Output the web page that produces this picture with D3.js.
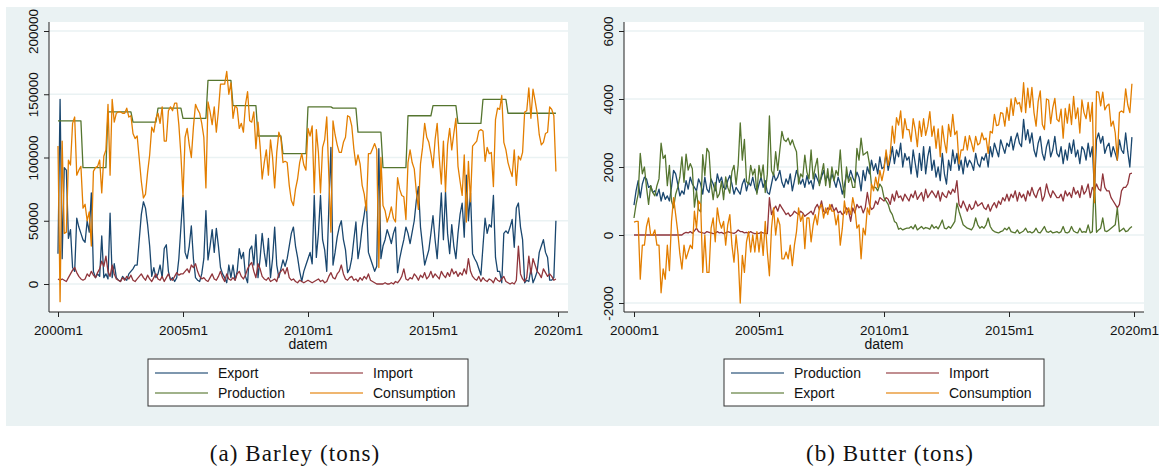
<!DOCTYPE html>
<html>
<head>
<meta charset="utf-8">
<script src="https://cdn.jsdelivr.net/npm/d3@7"></script>
<style>
  body { margin: 0; background: #fff; }
  text { font-family: "Liberation Sans", Arial, sans-serif; fill: #111; }
</style>
</head>
<body>
<svg id="chart" width="1170" height="469"></svg>
<script>
// ---- data (monthly, 2000m1 .. 2019m12) ----
const xTickMonths = [0, 60, 120, 180, 240];
const xTickLabels = ["2000m1", "2005m1", "2010m1", "2015m1", "2020m1"];

// Barley, thousand tons
const barleyProductionYear = [129, 92, 136, 128, 139, 131, 161, 141, 117, 103, 140, 139, 120, 92, 133, 141, 127, 146, 135, 135];
const barleyExport = [
  24, 146, 20, 92, 90, 36, 43, 13, 10, 52, 45, 40,
  35, 33, 50, 41, 72, 10, 5, 8, 6, 38, 5, 8,
  4, 56, 5, 16, 5, 3, 2, 6, 4, 3, 8, 10,
  12, 15, 15, 35, 55, 65, 60, 47, 30, 6, 13, 5,
  8, 15, 5, 28, 31, 10, 3, 5, 2, 5, 20, 45,
  70, 25, 20, 30, 46, 20, 5, 3, 2, 8, 20, 58,
  19, 30, 43, 25, 44, 30, 13, 8, 5, 1, 15, 5,
  15, 3, 10, 28, 20, 25, 6, 1, 27, 30, 15, 39,
  5, 20, 40, 25, 14, 36, 5, 20, 45, 15, 5, 12,
  19, 14, 20, 30, 40, 45, 30, 21, 10, 2, 10, 15,
  20, 25, 16, 70, 21, 40, 70, 35, 27, 10, 60, 108,
  15, 25, 37, 45, 50, 35, 27, 9, 12, 20, 35, 49,
  20, 30, 45, 55, 66, 25, 20, 15, 10, 14, 107, 20,
  30, 35, 43, 38, 32, 40, 45, 9, 20, 28, 35, 45,
  40, 32, 41, 50, 66, 77, 45, 30, 15, 21, 27, 40,
  54, 35, 20, 45, 72, 35, 73, 40, 24, 47, 30, 20,
  40, 55, 64, 37, 86, 50, 72, 24, 20, 17, 12, 7,
  30, 52, 40, 47, 45, 70, 21, 10, 10, 1, 40, 42,
  40, 45, 51, 29, 60, 64, 45, 35, 1, 3, 2, 12,
  1, 5, 10, 25, 30, 35, 25, 21, 3, 3, 5, 50
];
const barleyImport = [
  4, 3, 4, 3, 2, 5, 8, 11, 13, 9, 6, 4,
  3, 4, 8, 6, 10, 7, 5, 9, 12, 18, 14, 22,
  10, 6, 15, 8, 4, 3, 2, 5, 3, 6, 4, 7,
  3, 2, 4, 6, 8, 5, 3, 7, 4, 2, 5, 8,
  4, 3, 6, 2, 5, 8, 4, 3, 6, 9, 7, 8,
  8, 10, 12, 9, 15, 13, 16, 10, 6, 4, 5, 3,
  2, 5, 8, 4, 3, 6, 10, 5, 2, 8, 4, 3,
  5, 3, 8, 10, 6, 4, 7, 12, 15, 17, 10, 5,
  16, 12, 6, 4, 3, 5, 2, 3, 4, 2, 8, 10,
  12, 8, 13, 5, 3, 4, 2, 1, 3, 2, 1, 2,
  3, 2, 1, 2, 3, 4, 2, 3, 1, 2, 6, 9,
  5, 4, 8, 10, 15, 8, 4, 3, 5, 6, 3, 4,
  2, 5, 3, 6, 4, 8, 3, 2, 1, 0, 0, 0,
  0, 1, 0, 0, 1, 0, 2, 1, 3, 6, 12, 4,
  3, 5, 4, 8, 6, 3, 7, 5, 9, 4, 6, 10,
  5, 8, 6, 4, 10, 7, 5, 9, 6, 12, 8, 10,
  6, 9, 7, 12, 8, 20, 10, 6, 4, 3, 6, 2,
  5, 3, 2, 4, 3, 1, 5, 3, 2, 4, 6, 2,
  1, 0, 1, 0, 3, 30, 8, 4, 2, 5, 22, 8,
  20, 15, 10, 8, 5, 12, 9, 6, 8, 6, 3, 4
];
const barleyConsumption = [
  109, -14, 113, 40, 41, 98, 94, 127, 132, 86, 90, 93,
  60, 63, 50, 57, 30, 89, 92, 93, 98, 72, 101, 106,
  142, 86, 146, 128, 135, 136, 136, 135, 135, 139, 132, 133,
  119, 115, 117, 99, 81, 68, 71, 88, 102, 124, 120, 131,
  135, 127, 140, 113, 113, 137, 140, 137, 143, 143, 126, 102,
  69, 116, 123, 110, 100, 124, 142, 138, 135, 127, 116, 76,
  144, 136, 126, 140, 120, 137, 158, 158, 158, 168, 150, 159,
  131, 141, 139, 123, 127, 120, 142, 152, 129, 128, 136, 107,
  128, 109, 83, 96, 106, 86, 114, 100, 76, 104, 120, 115,
  96, 97, 96, 78, 66, 62, 75, 83, 96, 103, 94, 90,
  123, 117, 125, 72, 122, 104, 72, 108, 114, 132, 86, 41,
  129, 118, 110, 104, 104, 112, 116, 133, 132, 125, 107, 94,
  102, 95, 78, 71, 58, 103, 103, 107, 111, 106, 13, 100,
  62, 58, 49, 54, 61, 52, 49, 84, 75, 70, 69, 51,
  96, 106, 96, 91, 73, 59, 95, 108, 127, 116, 112, 103,
  92, 114, 127, 100, 79, 113, 73, 110, 123, 106, 119, 131,
  93, 81, 70, 102, 49, 97, 65, 109, 111, 113, 121, 122,
  121, 97, 108, 103, 104, 77, 130, 139, 138, 149, 112, 106,
  96, 90, 85, 106, 78, 101, 98, 104, 136, 137, 155, 131,
  154, 145, 135, 118, 110, 112, 119, 120, 140, 138, 133, 89
];

// Butter, tons
const butterProduction = [
  880, 1300, 1600, 1100, 1500, 1700, 1650, 1400, 1450, 1250, 1300, 1150,
  1350, 1000, 1250, 1050, 1150, 1000, 1400, 1900, 1800, 1500, 1150, 1300,
  1200, 1600, 1350, 1700, 1500, 1400, 1300, 1650, 1500, 1200, 1700, 1350,
  1250, 1650, 1500, 1300, 1800, 1550, 1700, 1400, 1350, 1600, 1750, 1500,
  1200, 1400, 1300, 1200, 1500, 1650, 1300, 1550, 1450, 1700, 1400, 1250,
  1500, 1700, 1400, 1600, 1250, 1200, 1500, 1800, 1600, 1700, 1900, 1550,
  1400, 1650, 1500, 1800, 1300, 1600, 1900, 1700, 1500, 1650, 1400, 1750,
  1500, 1600, 1350, 1800, 1650, 1500, 1700, 1900, 1600, 1750, 1550, 1800,
  1600, 1400, 1700, 1500, 1200, 1450, 1800, 1650, 1900, 1700, 1550, 1850,
  1700, 1300, 1900, 1600, 2000, 1800, 2200, 1900, 2100, 1800, 2300, 1950,
  2000, 2400, 1900, 2200, 2600, 2100, 2500, 2300, 2700, 2000, 2400, 2200,
  2300, 1800, 2500, 2100, 1700, 2400, 1900, 2600, 1800, 2300, 2600, 1900,
  2200, 1700, 2000, 1600, 2400, 1800, 1500, 2200, 1900, 2500, 2100, 2400,
  1900, 2200, 1800, 2300, 2000, 2200, 2100, 1900, 2400, 2100, 2000, 2300,
  2200, 2400, 2000, 2600, 2300, 2700, 2500, 2300, 2800, 2600, 2400, 2700,
  2600, 2900, 2500, 2800, 3000, 2700, 2600, 3400, 2800, 3100, 2700, 3000,
  2500, 2300, 2700, 2900, 2400, 2200, 2600, 2800, 2300, 2500, 2900, 2400,
  2300, 2600, 2100, 2500, 2200, 2700, 2400, 2800, 2300, 2500, 2100, 2600,
  2500, 2200, 2700, 2300, 2600, 1300, 2800, 3000, 2700, 2900, 2400, 2600,
  2700, 2300, 2600, 2400, 2200, 2800, 2500, 2400, 3000, 2450, 2000, 2880
];
const butterImport = [
  0, 0, 0, 0, 0, 0, 0, 0, 0, 0, 0, 0,
  0, 0, 0, 0, 0, 0, 0, 0, 0, 0, 0, 0,
  50, 80, 60, 100, 50, 120, 200, 100, 80, 60, 50, 100,
  80, 60, 40, 50, 100, 60, 80, 40, 60, 100, 80, 60,
  50, 80, 150, 100, 100, 60, 80, 50, 100, 60, 40, 50,
  50, 80, 60, 50, 40, 1100, 600, 750, 850, 700, 900, 800,
  700, 600, 650, 550, 600, 700, 650, 600, 700, 650, 550, 600,
  650, 700, 600, 800, 900, 750, 1000, 700, 650, 800, 750, 900,
  700, 800, 650, 700, 600, 650, 800, 700, 400, 800, 650, 900,
  800, 850, 650, 800, 1250, 900, 750, 800, 1000, 900, 1100, 1050,
  1000, 1100, 1050, 900, 1200, 1000, 1300, 1100, 1150, 1000, 1200, 1100,
  1000, 1200, 1100, 1300, 1050, 1150, 1250, 1000, 1350, 1100, 1200, 1300,
  1200, 1100, 1300, 1000, 1250, 1150, 1100, 1300, 1200, 1350, 1250, 1600,
  900, 800, 1000, 850, 700, 900, 750, 800, 1000, 850, 900, 950,
  800, 750, 900, 700, 850, 950, 800, 1000, 900, 1100, 1000, 1200,
  1000, 1200, 1100, 1300, 1000, 1250, 1100, 1200, 1000, 1300, 1150, 1400,
  1200, 1100, 1300, 1400, 1000, 1150, 1500, 1250, 1100, 1300, 1200, 1100,
  1100, 1200, 1000, 1300, 1150, 1250, 1100, 1400, 1200, 1300, 1100, 1450,
  1200, 1300, 1500, 1100, 1400, 1300, 1500, 1350, 1300, 1800, 1400, 1300,
  1300, 1100, 1000, 900, 800, 900, 1300, 1400, 1400, 1500, 1800, 1820
];
const butterExport = [
  500, 900, 1200, 2400, 1800, 2000, 1400, 900, 1450, 1250, 1150, 1450,
  1650, 2700, 2250, 2350, 1450, 2050, 1000, 800, 1200, 1400, 1700, 2300,
  1550, 2380, 1910, 2100, 1950, 820, 1300, 750, 680, 2360, 1750, 2550,
  2430, 1510, 1040, 1550, 1100, 1210, 1580, 1040, 1710, 1400, 1230, 1860,
  2050, 1480, 2050, 3300, 2200, 2810, 1580, 1500, 2050, 1760, 1940, 1200,
  2050, 1680, 2060, 1250, 1790, 3500, 1900, 1750, 2450, 1900, 2500, 3050,
  2800, 2750, 2850, 2650, 2800, 2600, 2450, 1500, 1800, 1700, 2350, 1850,
  1650, 2500, 1650, 2000, 2250, 1450, 1800, 2100, 1450, 1950, 1400, 2000,
  1600, 1900, 1750, 2500, 1600, 1100, 2000, 1550, 1700, 1400, 1400, 2550,
  2200, 2850, 2350, 2400, 2450, 2100, 1450, 1400, 1400, 1300, 1500, 1400,
  1100, 1000, 900, 700, 600, 400, 350, 170, 200, 150, 180, 200,
  200, 250, 180, 300, 150, 200, 250, 180, 220, 200, 170, 300,
  200, 250, 180, 300, 440, 200, 180, 250, 200, 300, 400, 940,
  700, 500, 300, 250, 200, 180, 150, 250, 500, 300, 200, 250,
  200, 300, 500, 250, 150, 100, 80, 60, 100, 120, 200, 150,
  230, 100, 80, 60, 150, 50, 80, 120, 200, 80, 100, 60,
  100, 200, 80, 60, 150, 250, 100, 80, 120, 60, 80, 100,
  60, 100, 250, 80, 60, 100, 250, 120, 80, 60, 200, 80,
  100, 80, 300, 60, 100, 1650, 80, 150, 200, 500, 120, 100,
  150, 200, 250, 300, 800, 100, 150, 200, 100, 120, 200, 250
];
const butterConsumption = [
  380, 400, 400, -1300, -300, -300, 250, 500, 0, 0, 150, -300,
  -300, -1700, -1000, -1300, -300, -1050, 400, 1100, 600, 100, -550, -1000,
  -300, -700, -500, -300, -400, 700, 200, 1000, 900, -1100, 0, -1100,
  -1100, 200, 500, -200, 800, 400, 200, 400, -300, 300, 600, -300,
  -800, 0, -600, -2000, -600, -1100, -200, 100, -500, 0, -500, 100,
  -500, 100, -600, 400, -500, -1200, 200, 800, 0, 500, 300, -700,
  -700, -500, -700, -300, -900, -300, 100, 800, 400, 600, -400, 500,
  500, -200, 300, 600, 300, 800, 900, 500, 800, 600, 900, 700,
  700, 300, 600, -300, 200, 1000, 600, 800, 600, 1100, 800, 200,
  300, -700, 200, 0, 800, 600, 1500, 1300, 1700, 1400, 1900, 1600,
  1900, 2500, 2050, 2400, 3200, 2700, 3450, 3230, 3650, 2850, 3420, 3100,
  3100, 2750, 3420, 3100, 2600, 3350, 2900, 3420, 2930, 3200, 3630, 2900,
  3200, 2550, 3120, 2300, 3210, 2750, 2420, 3250, 2900, 3550, 2950, 3060,
  2100, 2500, 2500, 2900, 2500, 2920, 2700, 2450, 2900, 2650, 2700, 3000,
  2800, 2850, 2400, 3050, 3000, 3550, 3220, 3240, 3600, 3580, 3200, 3750,
  3370, 4000, 3520, 4040, 3850, 3900, 3620, 4480, 3600, 4320, 3750, 4340,
  3600, 3200, 3920, 4240, 3250, 3100, 4000, 3970, 3280, 3740, 4020, 3400,
  3340, 3700, 2850, 3720, 3290, 3850, 3250, 4080, 3420, 3740, 3000, 3970,
  3600, 3420, 3900, 3340, 3900, 950, 4220, 4200, 3800, 4200, 3680, 3800,
  3850, 3200, 3350, 3000, 2200, 3600, 3650, 3600, 4300, 3830, 3600, 4450
];

const barleyYTicks = [0, 50000, 100000, 150000, 200000];
const butterYTicks = [-2000, 0, 2000, 4000, 6000];

// Stata s2color
const navy = "#1a476f", maroon = "#90353b", green = "#55752f", orange = "#e37e00";

const svg = d3.select("#chart");

function drawPanel(p) {
  const g = svg.append("g");
  const top = 22, bottom = 312;

  g.append("rect")
    .attr("x", p.bg[0]).attr("y", 7)
    .attr("width", p.bg[1] - p.bg[0]).attr("height", 419)
    .attr("fill", "#eaf2f3");

  const x = d3.scaleLinear().domain([0, 240]).range(p.xRange);
  const y = d3.scaleLinear().domain(p.yDomain).range(p.yRange);

  g.append("rect")
    .attr("x", p.plotX[0]).attr("y", top)
    .attr("width", p.plotX[1] - p.plotX[0]).attr("height", bottom - top)
    .attr("fill", "#fff");

  // grid
  g.selectAll("line.grid").data(p.yTicks).join("line")
    .attr("class", "grid")
    .attr("x1", p.plotX[0]).attr("x2", p.plotX[1])
    .attr("y1", d => y(d)).attr("y2", d => y(d))
    .attr("stroke", "#eaf2f3").attr("stroke-width", 1.5);

  // series
  const line = d3.line().x((d, i) => x(i)).y(d => y(d));
  p.series.forEach(s => {
    g.append("path")
      .datum(s.values)
      .attr("d", line)
      .attr("fill", "none")
      .attr("stroke", s.color)
      .attr("stroke-width", 1.3)
      .attr("stroke-linejoin", "round");
  });

  // y axis
  const yAxis = d3.axisLeft(y).tickValues(p.yTicks).tickSize(5).tickSizeOuter(0)
    .tickFormat(d => String(d));
  const ya = g.append("g").attr("transform", `translate(${p.plotX[0]},0)`).call(yAxis);
  ya.select(".domain").remove();
  ya.selectAll(".tick line").attr("stroke", "#222");
  ya.selectAll(".tick text")
    .attr("transform", "rotate(-90)")
    .attr("x", 0).attr("y", -11).attr("dy", 0)
    .attr("text-anchor", "middle")
    .style("font-size", "13.5px")
    .style("font-family", "Liberation Sans, Arial, sans-serif")
    .attr("fill", "#111");
  g.append("line")
    .attr("x1", p.plotX[0]).attr("x2", p.plotX[0])
    .attr("y1", top).attr("y2", bottom)
    .attr("stroke", "#222");

  // x axis
  const xAxis = d3.axisBottom(x).tickValues(xTickMonths).tickSize(5).tickSizeOuter(0)
    .tickFormat((d, i) => xTickLabels[i]);
  const xa = g.append("g").attr("transform", `translate(0,${bottom})`).call(xAxis);
  xa.select(".domain").remove();
  xa.selectAll(".tick line").attr("stroke", "#222");
  xa.selectAll(".tick text")
    .attr("y", 23).attr("dy", 0)
    .style("font-size", "13.5px")
    .style("font-family", "Liberation Sans, Arial, sans-serif")
    .attr("fill", "#111");
  g.append("line")
    .attr("x1", p.plotX[0]).attr("x2", p.plotX[1])
    .attr("y1", bottom).attr("y2", bottom)
    .attr("stroke", "#222");

  g.append("text")
    .attr("x", x(120)).attr("y", 349)
    .attr("text-anchor", "middle")
    .style("font-size", "14px")
    .text("datem");

  // legend, 2 x 2
  const cx = x(120);
  const lg = g.append("g");
  lg.append("rect")
    .attr("x", cx - 160).attr("y", 359)
    .attr("width", 320).attr("height", 47)
    .attr("fill", "#fff").attr("stroke", "#333").attr("stroke-width", 1);
  p.series.forEach((s, i) => {
    const col = i % 2, row = Math.floor(i / 2);
    const ly = 373 + row * 20;
    const lx = cx + (col === 0 ? -153 : 2);
    lg.append("line")
      .attr("x1", lx).attr("x2", lx + 53)
      .attr("y1", ly).attr("y2", ly)
      .attr("stroke", s.color).attr("stroke-width", 1.3).attr("stroke-opacity", 0.75);
    lg.append("text")
      .attr("x", lx + 63).attr("y", ly + 5)
      .style("font-size", "14px")
      .text(s.name);
  });

  // caption
  g.append("text")
    .attr("x", p.captionX).attr("y", 461)
    .attr("text-anchor", "middle")
    .style("font-family", "Liberation Serif, 'Times New Roman', serif")
    .style("font-size", "23px")
    .style("letter-spacing", "1.1px")
    .text(p.caption);
}

drawPanel({
  bg: [6, 583],
  plotX: [49, 568],
  xRange: [58, 558],
  yDomain: [0, 200000],
  yRange: [284, 31],
  yTicks: barleyYTicks,
  caption: "(a) Barley (tons)",
  captionX: 295,
  series: [
    { name: "Export", color: navy, values: barleyExport.map(v => v * 1000) },
    { name: "Import", color: maroon, values: barleyImport.map(v => v * 1000) },
    { name: "Production", color: green, values: d3.range(240).map(m => barleyProductionYear[Math.floor(m / 12)] * 1000) },
    { name: "Consumption", color: orange, values: barleyConsumption.map(v => v * 1000) }
  ]
});

drawPanel({
  bg: [583, 1159],
  plotX: [624, 1144],
  xRange: [634, 1134],
  yDomain: [0, 6000],
  yRange: [235, 31],
  yTicks: butterYTicks,
  caption: "(b) Butter (tons)",
  captionX: 890,
  series: [
    { name: "Production", color: navy, values: butterProduction },
    { name: "Import", color: maroon, values: butterImport },
    { name: "Export", color: green, values: butterExport },
    { name: "Consumption", color: orange, values: butterConsumption }
  ]
});
</script>
</body>
</html>
